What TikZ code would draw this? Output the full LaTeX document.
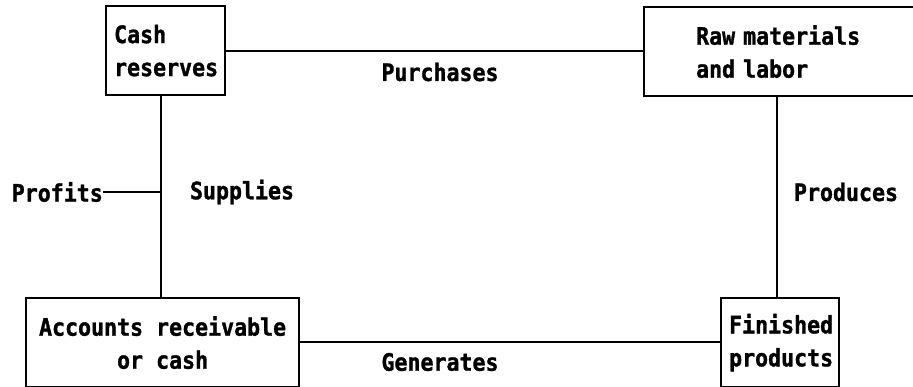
\documentclass[tikz,border=0pt]{standalone}
\usepackage{fontspec}
\newfontfamily\diag[FakeStretch=0.9, BoldFeatures={FakeBold=1.2}]{DejaVu Sans Mono}
\begin{document}
\begin{tikzpicture}[x=1pt,y=-1pt,
  box/.style={draw, line width=2.2pt, anchor=north west, inner xsep=8pt, inner ysep=0pt},
  lbl/.style={inner sep=0pt},
  conn/.style={line width=2.2pt}]
\useasboundingbox (0,0) rectangle (913,387);
\tikzset{every node/.append style={font=\diag\bfseries\fontsize{24}{33}\selectfont}}
% boxes
\node[box, minimum width=119pt, minimum height=89pt, text width=103pt, align=left] (cash) at (105,5) {Cash\\reserves};
\node[box, minimum width=275pt, minimum height=89pt, inner xsep=0pt, text width=275pt, align=left] (raw) at (643,6) {\hspace*{52pt}Raw materials\\\hspace*{52pt}and labor};
\node[box, minimum width=273pt, minimum height=89pt, align=center] (acc) at (25,297) {Accounts receivable\\or cash};
\node[box, minimum width=118pt, minimum height=89pt, text width=102pt, align=left] (fin) at (720,297) {Finished\\products};
% junction coordinates
\coordinate (jl) at (161,192);
\coordinate (jr) at (777,192);
% labels
\node[lbl] (purch) at (440,72) {Purchases};
\node[lbl] (gen) at (440,362) {Generates};
\node[lbl] (sup) at (242,192) {Supplies};
\node[lbl] (prod) at (846,192) {Produces};
\node[lbl, anchor=east] (prof) at (103,192) {Profits};
% connectors
\draw[conn] (cash.east |- 0,51) -- (raw.west |- 0,51);
\draw[conn] (jl |- cash.south) -- (jl |- acc.north);
\draw[conn] (jr |- raw.south) -- (jr |- fin.north);
\draw[conn] (acc.east |- 0,342) -- (fin.west |- 0,342);
\draw[conn] (prof.east) -- (jl);
\end{tikzpicture}
\end{document}
